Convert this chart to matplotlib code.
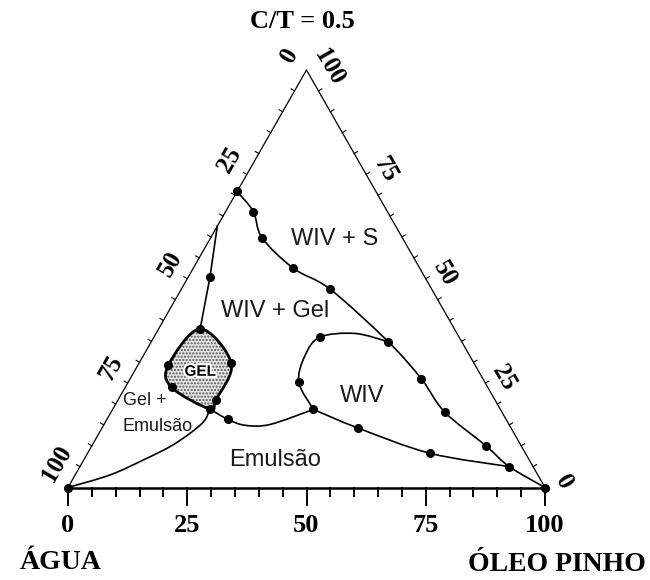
import numpy as np
import matplotlib.pyplot as plt
from matplotlib.path import Path
from matplotlib.patches import PathPatch
import matplotlib.patheffects as pe

# compositions as (oil %, C/T surfactant %), water = 100 - oil - surfactant
s_oil = [0, 5.8, 10.8, 21.0, 31.2, 49.7, 61.1, 69.9, 82.6, 90.0, 100]
s_surf = [70.9, 66.1, 59.8, 52.5, 47.5, 34.9, 26.0, 18.1, 10.0, 5.0, 0]
s_marks = [0, 1, 2, 3, 4, 5, 6, 7, 8, 9]

gel_line_oil = [0, 4.6, 8.7]
gel_line_surf = [62.6, 50.3, 38.0]

gel_oil = [8.7, 19.4, 20.5, 20.3, 9.7, 6.4]
gel_surf = [38.0, 29.7, 21.0, 18.8, 24.0, 29.3]

emu_oil = [20.3, 25.4, 29.7, 34.8, 42.1]
emu_surf = [18.8, 16.3, 14.9, 15.1, 18.7]
emu_marks = [1, 4]

loop_oil = [42.1, 35.8, 33.9, 34.8, 41.7, 49.7]
loop_surf = [18.7, 25.2, 31.5, 36.0, 36.9, 34.9]
loop_marks = [1, 3]

low_oil = [42.1, 53.8, 71.8, 90.0]
low_surf = [18.7, 14.2, 8.2, 5.0]
low_marks = [1, 2]

left_oil = [0, 7.3, 12.5, 16.5, 19.1, 20.6, 20.3]
left_surf = [0, 3.0, 6.6, 9.8, 13.0, 16.0, 18.8]

ticks = [0, 25, 50, 75, 100]

H = np.sqrt(3) / 2
PX_X, PX_Y = 4.77, 4.821   # pixels per data unit


def to_xy(oil, surf):
    oil = np.asarray(oil, float)
    surf = np.asarray(surf, float)
    return oil + surf / 2, surf * H


def smooth(x, y, closed=False):
    # Catmull-Rom through the points, written as cubic Bezier segments
    p = np.column_stack([x, y])
    n = len(p)
    if closed:
        idx = lambda i: p[i % n]
        segs = n
    else:
        idx = lambda i: p[min(max(i, 0), n - 1)]
        segs = n - 1
    verts = [p[0]]
    codes = [Path.MOVETO]
    for i in range(segs):
        p0, p1, p2, p3 = idx(i - 1), idx(i), idx(i + 1), idx(i + 2)
        verts += [p1 + (p2 - p0) / 6, p2 - (p3 - p1) / 6, p2]
        codes += [Path.CURVE4] * 3
    if closed:
        verts.append(p[0])
        codes.append(Path.CLOSEPOLY)
    return Path(verts, codes)


fig = plt.figure(figsize=(6.5, 5.8), dpi=100)
ax = fig.add_axes([0, 0, 1, 1])
ax.set_xlim(-68 / PX_X, 582 / PX_X)
ax.set_ylim(-92.5 / PX_Y, 487.5 / PX_Y)
ax.axis('off')

serif = dict(family='Liberation Serif', weight='bold', color='black')
sans = dict(family='Liberation Sans', color='#1a1a1a')

# triangle frame
ax.plot([0, 100], [0, 0], color='black', lw=1.8, solid_capstyle='butt', zorder=3)
ax.plot([0, 50, 100], [0, 100 * H, 0], color='black', lw=0.9, zorder=3)

# bottom axis ticks
for v in range(0, 101, 5):
    ln = 17 if v % 25 == 0 else 8
    ax.plot([v, v], [0, -ln / PX_Y], color='black', lw=1.4, zorder=3)
for v in ticks:
    ax.annotate(str(v), (v, 0), xytext=(0, -38), textcoords='offset pixels',
                ha='center', va='center', fontsize=19, **serif)

# side ticks
for v in range(5, 100, 5):
    x, y = to_xy(0, v)
    ax.plot([x, x - 0.866 * 4 / PX_X], [y, y + 0.5 * 4 / PX_Y], color='black', lw=0.8)
    x, y = to_xy(100 - v, v)
    ax.plot([x, x + 0.866 * 4 / PX_X], [y, y + 0.5 * 4 / PX_Y], color='black', lw=0.8)

for v in ticks:
    a = {1: 4, 2: 4.5, 3: 15}[len(str(v))]
    x, y = to_xy(0, 100 - v)
    off = (-0.866 * 22 + 0.5 * a, 0.5 * 22 + 0.866 * a)
    ax.annotate(str(v), (x, y), xytext=off, textcoords='offset pixels',
                ha='center', va='center', rotation=60, fontsize=18, **serif)
    n, a = (21, 9) if v == 100 else (19, 5)
    x, y = to_xy(100 - v, v)
    off = (0.866 * n + 0.5 * a, 0.5 * n - 0.866 * a)
    ax.annotate(str(v), (x, y), xytext=off, textcoords='offset pixels',
                ha='center', va='center', rotation=-60, fontsize=18, **serif)

# phase boundaries
line_kw = dict(fill=False, edgecolor='black', lw=1.2, zorder=4)
for o, s in [(s_oil, s_surf), (emu_oil, emu_surf), (loop_oil, loop_surf),
             (low_oil, low_surf), (left_oil, left_surf)]:
    ax.add_patch(PathPatch(smooth(*to_xy(o, s)), **line_kw))
ax.plot(*to_xy(gel_line_oil, gel_line_surf), color='black', lw=1.2, zorder=4)

# GEL region
plt.rcParams['hatch.linewidth'] = 1.0
gx, gy = to_xy(gel_oil, gel_surf)
ax.add_patch(PathPatch(smooth(gx, gy, closed=True), facecolor='#e4e4e4',
                       edgecolor='#555555', hatch='.....', lw=0, zorder=4))
ax.add_patch(PathPatch(smooth(gx, gy, closed=True), fill=False,
                       edgecolor='black', lw=2.0, zorder=5))

# measured points
mk = dict(marker='o', color='black', ms=5.5, ls='none', zorder=6)
for o, s, m in [(s_oil, s_surf, s_marks), (emu_oil, emu_surf, emu_marks),
                (loop_oil, loop_surf, loop_marks), (low_oil, low_surf, low_marks)]:
    x, y = to_xy(o, s)
    ax.plot(x[m], y[m], **mk)
ax.plot(*to_xy(gel_line_oil[1:2], gel_line_surf[1:2]), **mk)
ax.plot(gx, gy, **mk)
ax.plot([0, 100], [0, 0], **mk)

# region labels
ax.text(55.8, 50.3, 'WIV + S', ha='center', va='baseline', fontsize=17, **sans)
ax.text(43.4, 35.4, 'WIV + Gel', ha='center', va='baseline', fontsize=17, **sans)
ax.text(61.6, 17.8, 'WIV', ha='center', va='baseline', fontsize=17, **sans)
ax.text(11.5, 17.2, 'Gel +', ha='left', va='baseline', fontsize=13, **sans)
ax.text(11.5, 11.8, 'Emulsão', ha='left', va='baseline', fontsize=13, **sans)
ax.text(43.4, 4.4, 'Emulsão', ha='center', va='baseline', fontsize=17, **sans)
ax.text(27.7, 24.0, 'GEL', ha='center', va='center', fontsize=11,
        family='Liberation Sans', weight='bold', color='black', zorder=7,
        path_effects=[pe.withStroke(linewidth=3, foreground='white')])

ax.text(49.1, 95.3, 'C/T = 0.5', ha='center', va='baseline', fontsize=19, **serif)
ax.text(-10.1, -16.9, 'ÁGUA', ha='left', va='baseline', fontsize=20, **serif)
ax.text(102.4, -17.3, 'ÓLEO PINHO', ha='center', va='baseline', fontsize=20, **serif)

fig.savefig('out.png', dpi=100)
